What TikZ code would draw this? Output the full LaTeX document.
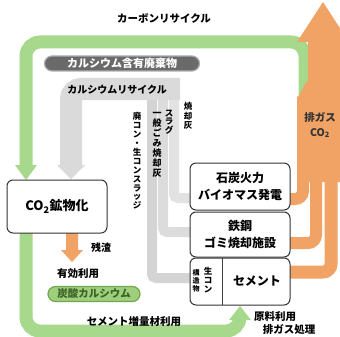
\documentclass[tikz,border=0pt]{standalone}
\usepackage{fontspec}
\setmainfont{Noto Sans CJK JP}
\definecolor{grn}{HTML}{A6D98C}
\definecolor{org}{HTML}{F0A365}
\definecolor{gry}{HTML}{DADADA}
\definecolor{gryA}{HTML}{D4D4D4}
\definecolor{gryB}{HTML}{DCDCDC}
\definecolor{gryC}{HTML}{E2E2E2}
\definecolor{dgry}{HTML}{6A6A6A}
\definecolor{pillg}{HTML}{9FCF7C}
\definecolor{pilld}{HTML}{6FA64E}
\definecolor{txtg}{HTML}{3A6326}
\begin{document}
\begin{tikzpicture}[x=1pt,y=-1pt,
  box/.style={draw=black!80, line width=1pt, rounded corners=6pt, fill=white, align=center,
    font=\bfseries\fontsize{12}{17}\selectfont, inner sep=0, minimum width=100pt},
  lbl/.style={font=\bfseries\fontsize{10.5}{12}\selectfont, inner sep=0},
  vlbl/.style={align=center, inner sep=0},
  strand/.style={line width=10pt, rounded corners=4pt},
  greenband/.style={grn, line width=13pt, rounded corners=14pt},
  orangeband/.style={org, line width=12pt, rounded corners=8pt}]
\useasboundingbox (0,0) rectangle (340,337);

% ---- grey calcium recycle band
\draw[gryA, strand] (190,278) -- (152,278) -- (152,89);
\draw[gryB, strand] (190,232) -- (163,232) -- (163,89);
\draw[gryC, strand] (190,198) -- (174,198) -- (174,89);
\draw[gry, line width=22pt, rounded corners=10pt] (180,89) -- (71,89) -- (71,166);
\fill[gry] (57,165) -- (85,165) -- (71,179) -- cycle;

% ---- green carbon recycle band
\draw[greenband] (305,100) -- (305,42) -- (26,42) -- (26,166);
\fill[grn] (15,165) -- (37,165) -- (26,180) -- cycle;
\draw[greenband] (26,233) -- (26,331) -- (240,331) -- (240,318);
\fill[grn] (229,320) -- (251,320) -- (240,306) -- cycle;

% ---- orange exhaust CO2
\draw[orangeband] (285,199) -- (303,199) -- (303,160);
\draw[orangeband] (285,243) -- (316,243) -- (316,160);
\draw[orangeband, line width=13pt] (285,272) -- (331,272) -- (331,160);
\fill[org] (297,182) -- (297,96) to[out=-90,in=90] (308,82) -- (308,42) -- (297,42)
  -- (323,2) -- (349,42) -- (340,42) -- (340,182) -- cycle;
% residue arrow
\fill[org] (66,233) -- (78,233) -- (78,250) -- (83,250) -- (72,262) -- (61,250) -- (66,250) -- cycle;

% ---- boxes
\node[box, minimum height=53pt, font=\bfseries\fontsize{13}{15}\selectfont] (co2) at (57,206.5) {CO\textsubscript{2}鉱物化};
\node[box, minimum height=47pt] (coal) at (240,186.5) {石炭火力\\バイオマス発電};
\node[box, minimum height=45pt] (steel) at (240,234.5) {鉄鋼\\ゴミ焼却施設};
\node[box, minimum height=47pt] (cem) at (240,281.5) {};
\draw[black!75, line width=0.8pt] (cem.north west) ++(33,0) coordinate (dvt) -- ++(0,47) coordinate (dvb);
\node[font=\bfseries\fontsize{12}{14}\selectfont, inner sep=0] (cemt) at (257,281.5) {セメント};
\node[vlbl, font=\bfseries\fontsize{8.5}{8.7}\selectfont] (namacon) at (208,280) {生\\コ\\ン};
\node[vlbl, font=\bfseries\fontsize{7}{8}\selectfont] (kozo) at (196,281) {構\\造\\物};

% ---- labels
\node[lbl] (cr) at (164,18) {カーボンリサイクル};
\node[fill=dgry, draw=dgry!55, line width=1.2pt, text=white, rounded corners=7.5pt,
  minimum width=155pt, minimum height=15pt, inner sep=0,
  font=\bfseries\fontsize{11}{12}\selectfont] (waste) at (122,63.5) {カルシウム含有廃棄物};
\node[font=\bfseries\fontsize{10}{12}\selectfont, inner sep=0] (calr) at (117,90) {カルシウムリサイクル};
\node[vlbl, font=\bfseries\fontsize{8.5}{9.5}\selectfont] (ash1) at (188,116) {焼\\却\\灰};
\node[vlbl, font=\bfseries\fontsize{8.5}{8.6}\selectfont] (slag) at (169,122) {ス\\ラ\\グ};
\node[vlbl, font=\bfseries\fontsize{9}{10}\selectfont] (ash2) at (157,145) {一\\般\\ご\\み\\焼\\却\\灰};
\node[vlbl, font=\bfseries\fontsize{8.5}{8.9}\selectfont] (sludge) at (137,161) {廃\\コ\\ン\\・\\生\\コ\\ン\\ス\\ラ\\ッ\\ジ};
\node[align=center, inner sep=0, font=\bfseries\fontsize{10.5}{15}\selectfont, text=black!80] (exh) at (320,125) {排ガス\\CO\textsubscript{2}};
\node[lbl, font=\bfseries\fontsize{10}{12}\selectfont] (res) at (101,248) {残渣};
\node[lbl] (eff) at (78,274) {有効利用};
\node[fill=pillg, draw=pilld, line width=1.2pt, text=txtg, rounded corners=7.5pt,
  minimum width=92pt, minimum height=15pt, inner sep=0,
  font=\bfseries\fontsize{10.5}{12}\selectfont] (caco3) at (94,294) {炭酸カルシウム};
\node[lbl] (cemuse) at (134,322) {セメント増量材利用};
\node[lbl] (raw) at (275,317) {原料利用};
\node[lbl] (gas) at (289,330) {排ガス処理};
\end{tikzpicture}
\end{document}
